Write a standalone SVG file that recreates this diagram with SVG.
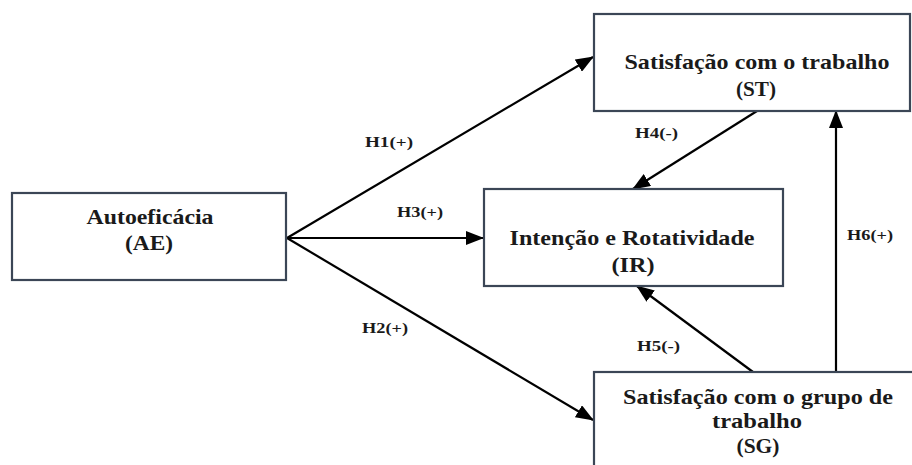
<svg xmlns="http://www.w3.org/2000/svg" width="912" height="465" viewBox="0 0 912 465">
<defs>
<style>
.box{fill:#fff;stroke:#3b4656;stroke-width:2.2}
.t{font-family:'Liberation Serif','Times New Roman',serif;font-weight:700;font-size:21px;fill:#1a1a1a;text-anchor:middle}
.l{font-family:'Liberation Serif','Times New Roman',serif;font-weight:700;font-size:15px;fill:#1a1a1a}
.c{stroke:#000;stroke-width:2.2;fill:none;marker-end:url(#ah)}
</style>
<marker id="ah" markerUnits="userSpaceOnUse" markerWidth="18" markerHeight="14" viewBox="0 0 18 14" refX="17" refY="7" orient="auto">
<path d="M0,0 L18,7 L0,14 z" fill="#000"/>
</marker>
</defs>
<rect width="912" height="465" fill="#fff"/>
<g id="connectors">
<line class="c" x1="287" y1="238" x2="593" y2="57"/>
<line class="c" x1="287" y1="238" x2="483" y2="238"/>
<line class="c" x1="287" y1="238" x2="593" y2="420"/>
<line class="c" x1="757" y1="111" x2="633" y2="189"/>
<line class="c" x1="753" y1="372" x2="637" y2="286"/>
<line class="c" x1="836" y1="372" x2="836" y2="111"/>
<text class="l" x="365" y="147" textLength="48" lengthAdjust="spacingAndGlyphs">H1(+)</text>
<text class="l" x="397" y="217" textLength="46" lengthAdjust="spacingAndGlyphs">H3(+)</text>
<text class="l" x="362" y="333" textLength="46" lengthAdjust="spacingAndGlyphs">H2(+)</text>
<text class="l" x="635" y="138" textLength="43" lengthAdjust="spacingAndGlyphs">H4(-)</text>
<text class="l" x="637" y="351" textLength="43" lengthAdjust="spacingAndGlyphs">H5(-)</text>
<text class="l" x="847" y="240" textLength="46" lengthAdjust="spacingAndGlyphs">H6(+)</text>
</g>
<g id="AE">
<rect class="box" x="12" y="193" width="274" height="87"/>
<text class="t" x="150" y="224" textLength="127" lengthAdjust="spacingAndGlyphs">Autoeficácia</text>
<text class="t" x="149" y="250" textLength="48" lengthAdjust="spacingAndGlyphs">(AE)</text>
</g>
<g id="ST">
<rect class="box" x="594" y="14" width="316" height="97"/>
<text class="t" x="757" y="69" textLength="265" lengthAdjust="spacingAndGlyphs">Satisfação com o trabalho</text>
<text class="t" x="756" y="96" textLength="40" lengthAdjust="spacingAndGlyphs">(ST)</text>
</g>
<g id="IR">
<rect class="box" x="484" y="189" width="299" height="97"/>
<text class="t" x="632" y="245" textLength="245" lengthAdjust="spacingAndGlyphs">Intenção e Rotatividade</text>
<text class="t" x="633" y="272" textLength="43" lengthAdjust="spacingAndGlyphs">(IR)</text>
</g>
<g id="SG">
<rect class="box" x="594" y="372" width="330" height="110"/>
<text class="t" x="758" y="404" textLength="270" lengthAdjust="spacingAndGlyphs">Satisfação com o grupo de</text>
<text class="t" x="757" y="428" textLength="90" lengthAdjust="spacingAndGlyphs">trabalho</text>
<text class="t" x="758" y="453" textLength="43" lengthAdjust="spacingAndGlyphs">(SG)</text>
</g>
</svg>
